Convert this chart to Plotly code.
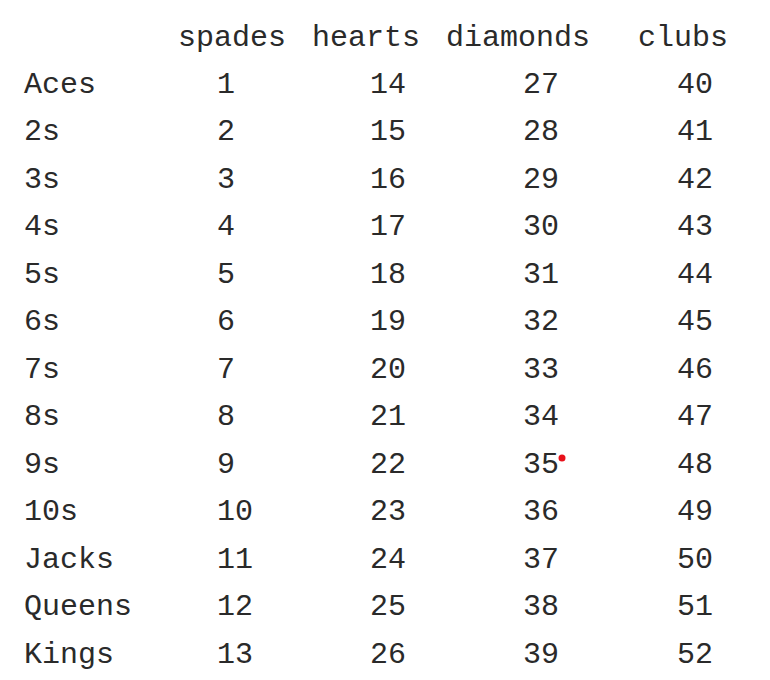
import plotly.graph_objects as go

ranks = ["Aces", "2s", "3s", "4s", "5s", "6s", "7s", "8s", "9s", "10s", "Jacks", "Queens", "Kings"]
suits = ["spades", "hearts", "diamonds", "clubs"]
values = {
    "spades": list(range(1, 14)),
    "hearts": list(range(14, 27)),
    "diamonds": list(range(27, 40)),
    "clubs": list(range(40, 53)),
}
header_x = [170, 304, 438, 630]
col_x = [209, 362, 515, 669]
row_y = [77 + 47.5 * i for i in range(len(ranks))]
marked = ("diamonds", "9s")

font = dict(family="Courier New, Liberation Mono, monospace", size=30, color="#2a2a2a")

fig = go.Figure()
fig.add_trace(go.Scatter(x=header_x, y=[30] * 4, text=suits, mode="text",
                         textposition="middle right", textfont=font))
fig.add_trace(go.Scatter(x=[16] * len(ranks), y=row_y, text=ranks, mode="text",
                         textposition="middle right", textfont=font))
for s, cx in zip(suits, col_x):
    fig.add_trace(go.Scatter(x=[cx] * len(ranks), y=row_y, text=[str(v) for v in values[s]],
                             mode="text", textposition="middle right", textfont=font))

mi = ranks.index(marked[1])
fig.add_trace(go.Scatter(x=[554], y=[row_y[mi] - 7], mode="markers",
                         marker=dict(color="#e8101a", size=7)))

fig.update_layout(
    width=770, height=680, showlegend=False,
    margin=dict(l=0, r=0, t=0, b=0),
    plot_bgcolor="white", paper_bgcolor="white",
    xaxis=dict(range=[0, 770], visible=False, fixedrange=True),
    yaxis=dict(range=[680, 0], visible=False, fixedrange=True),
)
fig.write_html("out.html")
